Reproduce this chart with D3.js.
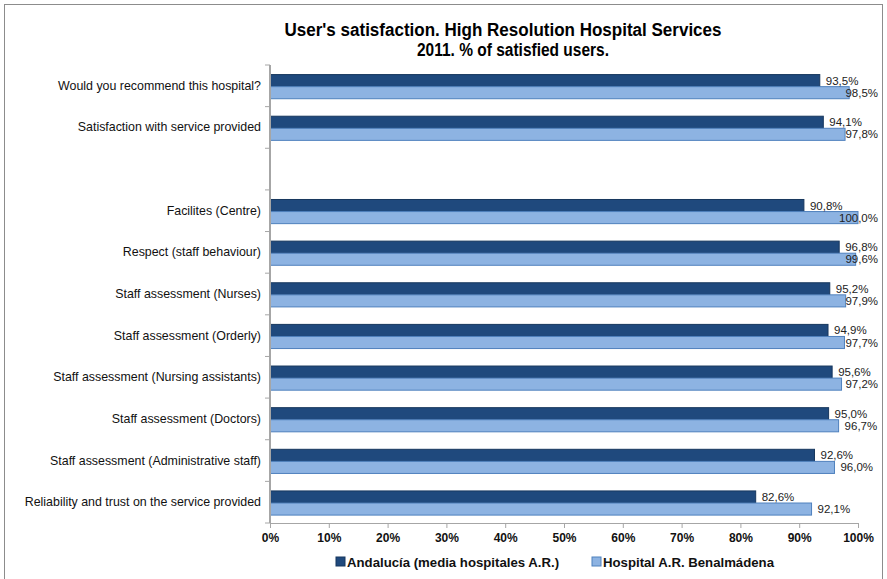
<!DOCTYPE html>
<html>
<head>
<meta charset="utf-8">
<script src="https://cdn.jsdelivr.net/npm/d3@7"></script>
<style>
  body { margin: 0; background: #fff; }
  svg text { font-family: "Liberation Sans", Arial, sans-serif; }
</style>
</head>
<body>
<article></article>
<script>
const categories = [
    "Would you recommend this hospital?",
    "Satisfaction with service provided",
    "",
    "Facilites (Centre)",
    "Respect (staff behaviour)",
    "Staff assessment (Nurses)",
    "Staff assessment (Orderly)",
    "Staff assessment (Nursing assistants)",
    "Staff assessment (Doctors)",
    "Staff assessment (Administrative staff)",
    "Reliability and trust on the service provided"
]
const andalucia = [93.5, 94.1, null, 90.8, 96.8, 95.2, 94.9, 95.6, 95.0, 92.6, 82.6]
const benalmadena = [98.5, 97.8, null, 100.0, 99.6, 97.9, 97.7, 97.2, 96.7, 96.0, 92.1]
const seriesNames = ["Andalucía (media hospitales A.R.)", "Hospital A.R. Benalmádena"]
const xTicks = [0, 10, 20, 30, 40, 50, 60, 70, 80, 90, 100]

const m = { width: 887, height: 579 }
const colors = ['#1f497d', '#8db3e2']
const strokes = ['#17375e', '#4f81bd']

const svg = d3.select("article").append('svg')
    .attr('width', m.width)
    .attr('height', m.height)

// outer frame
svg.append('rect')
    .attr('x', 4.5).attr('y', 4.5)
    .attr('width', 878).attr('height', 580)
    .attr('fill', 'none')
    .attr('stroke', '#8c8c8c')

svg.append('text')
    .attr('x', 503).attr('y', 36)
    .attr('text-anchor', 'middle')
    .attr('font-size', 18).attr('font-weight', 'bold')
    .attr('textLength', 437).attr('lengthAdjust', 'spacingAndGlyphs')
    .text("User's satisfaction. High Resolution Hospital Services")
svg.append('text')
    .attr('x', 513).attr('y', 56)
    .attr('text-anchor', 'middle')
    .attr('font-size', 18).attr('font-weight', 'bold')
    .attr('textLength', 192).attr('lengthAdjust', 'spacingAndGlyphs')
    .text("2011. % of satisfied users.")

const x = d3.scaleLinear().domain([0, 100]).range([270, 858])
const y = d3.scaleBand().domain(d3.range(categories.length)).range([65, 523]).padding(0)
const sub = d3.scaleBand().domain([0, 1])
    .range([y.bandwidth() * 0.23, y.bandwidth() * 0.81]).padding(0)

const rows = categories.map((c, i) => ({ i: i, label: c, vals: [andalucia[i], benalmadena[i]] }))

const g = svg.append('g')

const groups = g.selectAll('.row')
    .data(rows)
    .enter()
    .append('g')
    .attr('transform', d => `translate(0,${y(d.i)})`)

groups.selectAll('rect')
    .data(d => d.vals.map((v, k) => ({ v: v, k: k })).filter(e => e.v !== null))
    .enter()
    .append('rect')
    .attr('x', x(0))
    .attr('y', d => sub(d.k))
    .attr('width', d => x(d.v) - x(0))
    .attr('height', sub.bandwidth())
    .attr('fill', d => colors[d.k])
    .attr('stroke', d => strokes[d.k])
    .attr('stroke-width', 1)

const fmt = v => v.toFixed(1).replace('.', ',') + '%'

groups.selectAll('.val')
    .data(d => d.vals.map((v, k) => ({ v: v, k: k })).filter(e => e.v !== null))
    .enter()
    .append('text')
    .attr('class', 'val')
    .attr('font-size', 11.5)
    .attr('fill', '#222')
    .attr('y', d => sub(d.k) + sub.bandwidth() / 2 + 4)
    .text(d => fmt(d.v))
    .attr('x', function (d) {
        let w = this.getComputedTextLength()
        return Math.min(x(d.v) + 6, 878 - w)
    })

// y axis
const yAxis = svg.append('g')
yAxis.append('line')
    .attr('x1', 270).attr('x2', 270)
    .attr('y1', 65).attr('y2', 523)
    .attr('stroke', '#a6a6a6').attr('stroke-width', 2)
yAxis.selectAll('.tick')
    .data(d3.range(categories.length + 1))
    .enter()
    .append('line')
    .attr('x1', 265).attr('x2', 270)
    .attr('y1', i => i < categories.length ? y(i) : 523)
    .attr('y2', i => i < categories.length ? y(i) : 523)
    .attr('stroke', '#a6a6a6')
yAxis.selectAll('.lab')
    .data(rows)
    .enter()
    .append('text')
    .attr('x', 261)
    .attr('y', d => y(d.i) + y.bandwidth() / 2 + 4)
    .attr('text-anchor', 'end')
    .attr('font-size', 12.4)
    .attr('fill', '#111')
    .text(d => d.label)

// x axis
const xAxis = svg.append('g')
    .attr('transform', 'translate(0,523)')
    .call(d3.axisBottom(x).tickValues(xTicks).tickSize(5).tickFormat(d => d + '%'))
xAxis.select('.domain').attr('stroke', '#a6a6a6')
xAxis.selectAll('.tick line').attr('stroke', '#a6a6a6')
xAxis.selectAll('.tick text')
    .attr('font-size', 12).attr('font-weight', 'bold')
    .attr('font-family', '"Liberation Sans", Arial, sans-serif')
    .attr('fill', '#111')
    .attr('dy', '0.95em')

// legend
const legendX = [336, 592]
const legend = svg.selectAll('.legend')
    .data(seriesNames)
    .enter()
    .append('g')
    .attr('transform', (d, i) => `translate(${legendX[i]},557)`)
legend.append('rect')
    .attr('width', 9).attr('height', 9)
    .attr('fill', (d, i) => colors[i])
    .attr('stroke', (d, i) => strokes[i])
legend.append('text')
    .attr('x', 11).attr('y', 10)
    .attr('font-size', 13.2).attr('font-weight', 'bold')
    .attr('fill', '#111')
    .text(d => d)
</script>
</body>
</html>
